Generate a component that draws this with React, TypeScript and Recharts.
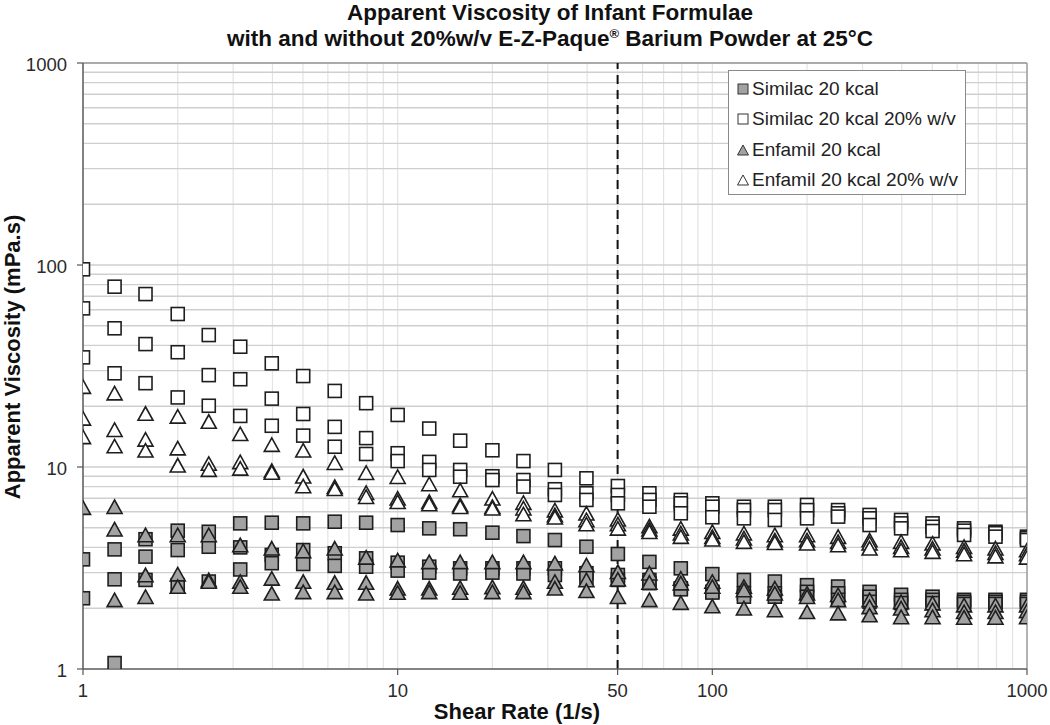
import React from 'react';
import { ScatterChart, Scatter, XAxis, YAxis, CartesianGrid, ReferenceLine } from 'recharts';

const shearRates = [1, 1.26, 1.58, 2, 2.51, 3.16, 3.98, 5.01, 6.31, 7.94, 10, 12.6, 15.8, 20, 25.1, 31.6, 39.8, 50.1, 63.1, 79.4, 100, 126, 158, 200, 251, 316, 398, 501, 631, 794, 1000];

// Similac 20 kcal (three replicate runs)
const similacRun1 = [3.49, 3.91, 4.39, 4.84, 4.78, 5.26, 5.3, 5.26, 5.36, 5.3, 5.16, 4.97, 4.92, 4.73, 4.55, 4.35, 4.03, 3.71, 3.39, 3.15, 2.95, 2.76, 2.71, 2.6, 2.56, 2.41, 2.33, 2.28, 2.2, 2.2, 2.2];
const similacRun2 = [2.24, 2.78, 3.6, 3.88, 4.03, 4.0, 3.67, 3.88, 3.74, 3.53, 3.36, 3.21, 3.15, 3.15, 3.15, 3.15, 2.98, 2.92, 2.76, 2.51, 2.41, 2.37, 2.37, 2.41, 2.37, 2.28, 2.2, 2.2, 2.15, 2.15, 2.15];
const similacRun3 = [null, 1.07, 2.76, 2.6, 2.71, 3.11, 3.34, 3.31, 3.24, 3.21, 3.07, 3.0, 2.97, 3.0, 2.97, 2.92, 2.84, 2.76, 2.66, 2.48, 2.39, 2.28, 2.28, 2.28, 2.2, 2.15, 2.12, 2.12, 2.1, 2.1, 2.1];

// Similac 20 kcal 20% w/v
const similacBaRun1 = [95.2, 78.1, 71.8, 57.2, 45.0, 39.4, 32.6, 28.2, 23.8, 20.7, 18.1, 15.5, 13.5, 12.1, 10.7, 9.67, 8.79, 8.05, 7.41, 6.87, 6.61, 6.36, 6.36, 6.49, 6.12, 5.79, 5.47, 5.26, 4.97, 4.78, 4.52];
const similacBaRun2 = [61.0, 48.6, 40.6, 37.0, 28.5, 27.2, 21.8, 18.3, 15.8, 13.9, 11.7, 10.6, 9.67, 9.0, 8.62, 7.76, 7.41, 7.27, 6.87, 6.61, 6.36, 6.12, 6.12, 6.12, 5.9, 5.57, 5.26, 5.06, 4.84, 4.7, 4.44];
const similacBaRun3 = [34.9, 29.1, 26.0, 22.1, 20.1, 17.9, 16.0, 14.3, 12.6, 11.6, 10.7, 9.67, 8.95, 8.62, 8.0, 7.27, 6.87, 6.61, 6.36, 5.9, 5.64, 5.57, 5.47, 5.57, 5.68, 5.16, 4.97, 4.82, 4.61, 4.52, 4.35];

// Enfamil 20 kcal
const enfamilRun1 = [6.29, 6.36, 4.61, 4.61, 4.61, 4.11, 3.96, 3.84, 3.96, 3.57, 3.46, 3.39, 3.39, 3.39, 3.39, 3.34, 3.27, 3.03, 2.98, 2.81, 2.71, 2.56, 2.51, 2.37, 2.33, 2.2, 2.15, 2.12, 2.07, 2.07, 2.07];
const enfamilRun2 = [null, 4.92, 2.92, 2.95, 2.76, 2.71, 2.81, 2.71, 2.68, 2.68, 2.51, 2.51, 2.53, 2.55, 2.53, 2.71, 2.76, 2.78, 2.68, 2.66, 2.56, 2.46, 2.37, 2.28, 2.2, 2.03, 2.0, 1.96, 1.92, 1.92, 1.94];
const enfamilRun3 = [null, 2.2, 2.28, 2.56, 2.71, 2.56, 2.37, 2.41, 2.41, 2.37, 2.39, 2.41, 2.39, 2.41, 2.41, 2.51, 2.44, 2.28, 2.2, 2.13, 2.05, 2.0, 1.96, 1.92, 1.89, 1.85, 1.81, 1.81, 1.8, 1.8, 1.81];

// Enfamil 20 kcal 20% w/v
const enfamilBaRun1 = [25.0, 23.2, 18.4, 17.8, 16.8, 14.6, 12.9, 12.1, 10.5, 9.37, 8.95, 8.24, 7.69, 7.0, 6.66, 6.12, 5.9, 5.51, 5.1, 4.97, 4.78, 4.7, 4.61, 4.61, 4.52, 4.35, 4.27, 4.19, 4.03, 3.96, 3.88];
const enfamilBaRun2 = [17.4, 15.3, 13.7, 12.4, 10.4, 10.6, 9.6, 9.0, 8.0, 7.46, 7.0, 6.73, 6.49, 6.36, 6.25, 5.79, 5.47, 5.22, 4.92, 4.7, 4.52, 4.44, 4.35, 4.35, 4.27, 4.19, 4.03, 3.96, 3.86, 3.77, 3.71];
const enfamilBaRun3 = [14.1, 12.7, 12.1, 10.2, 9.7, 9.85, 9.4, 8.05, 7.8, 7.13, 6.73, 6.56, 6.36, 6.25, 5.85, 5.64, 5.22, 4.97, 4.78, 4.52, 4.39, 4.27, 4.22, 4.19, 4.11, 3.96, 3.88, 3.81, 3.71, 3.62, 3.57];

const seriesNames = ['Similac 20 kcal', 'Similac 20 kcal 20% w/v', 'Enfamil 20 kcal', 'Enfamil 20 kcal 20% w/v'];

const xGridTicks = [1, 2, 3, 4, 5, 6, 7, 8, 9, 10, 20, 30, 40, 50, 60, 70, 80, 90, 100, 200, 300, 400, 500, 600, 700, 800, 900, 1000];
const xLabelTicks = [1, 10, 50, 100, 1000];
const yGridTicks = [1, 2, 3, 4, 5, 6, 7, 8, 9, 10, 20, 30, 40, 50, 60, 70, 80, 90, 100, 200, 300, 400, 500, 600, 700, 800, 900, 1000];
const yLabelTicks = [1, 10, 100, 1000];
const cutoffShearRate = 50;

const FONT = '"Liberation Sans", Arial, sans-serif';
const GRAY_FILL = '#a2a2a2';
const EDGE = '#1e1e1e';

type Pt = { x: number; y: number };
const build = (runs: (number | null)[][]): Pt[] => {
  const out: Pt[] = [];
  runs.forEach((run) => run.forEach((v, i) => { if (v != null) out.push({ x: shearRates[i], y: v }); }));
  return out;
};

const similacData = build([similacRun1, similacRun2, similacRun3]);
const similacBaData = build([similacBaRun1, similacBaRun2, similacBaRun3]);
const enfamilData = build([enfamilRun1, enfamilRun2, enfamilRun3]);
const enfamilBaData = build([enfamilBaRun1, enfamilBaRun2, enfamilBaRun3]);

const squareShape = (fill: string) => (p: any) => {
  const s = 13;
  return <rect x={p.cx - s / 2} y={p.cy - s / 2} width={s} height={s} fill={fill} stroke={EDGE} strokeWidth={1.6} />;
};
const triShape = (fill: string) => (p: any) => {
  const w = 15, h = 13.5;
  const pts = `${p.cx},${p.cy - h / 2} ${p.cx + w / 2},${p.cy + h / 2} ${p.cx - w / 2},${p.cy + h / 2}`;
  return <polygon points={pts} fill={fill} stroke={EDGE} strokeWidth={1.6} strokeLinejoin="miter" />;
};

const XTick = (props: any) => {
  const { x, y, payload } = props;
  const v = payload.value;
  if (!xLabelTicks.includes(v)) return <g />;
  return (
    <g>
      <line x1={x} x2={x} y1={y - 6} y2={y} stroke="#555" strokeWidth={1.2} />
      <text x={x} y={y + 15} textAnchor="middle" dominantBaseline="central" fontFamily={FONT} fontSize={18.5} fill="#2a2a2a">{v}</text>
    </g>
  );
};
const YTick = (props: any) => {
  const { x, y, payload } = props;
  const v = payload.value;
  if (!yLabelTicks.includes(v)) return <g />;
  return (
    <g>
      <line x1={x} x2={x + 6} y1={y} y2={y} stroke="#555" strokeWidth={1.2} />
      <text x={x - 10} y={y + 1} textAnchor="end" dominantBaseline="central" fontFamily={FONT} fontSize={18.5} fill="#2a2a2a">{v}</text>
    </g>
  );
};

const LegendMark = ({ kind, fill }: { kind: string; fill: string }) => (
  <svg width={12} height={12} style={{ display: 'block' }}>
    {kind === 'square'
      ? <rect x={1} y={1} width={10} height={10} fill={fill} stroke="#333" strokeWidth={1} />
      : <polygon points="6,1 11.5,11 0.5,11" fill={fill} stroke="#333" strokeWidth={1} />}
  </svg>
);

const legendItems = [
  { kind: 'square', fill: GRAY_FILL },
  { kind: 'square', fill: '#ffffff' },
  { kind: 'triangle', fill: GRAY_FILL },
  { kind: 'triangle', fill: '#ffffff' },
];

const LegendBox = () => (
  <div style={{ position: 'absolute', left: 728, top: 70, width: 238, height: 125, border: '1.5px solid #8a8a8a', background: '#fff', boxSizing: 'border-box', paddingTop: 3, fontFamily: FONT }}>
    {seriesNames.map((name, i) => (
      <div key={name} style={{ display: 'flex', alignItems: 'center', height: 30.3, paddingLeft: 8 }}>
        <LegendMark kind={legendItems[i].kind} fill={legendItems[i].fill} />
        <span style={{ fontSize: 19, color: '#222', marginLeft: 3, whiteSpace: 'nowrap' }}>{name}</span>
      </div>
    ))}
  </div>
);

export default function App() {
  return (
    <div style={{ position: 'absolute', left: 0, top: 0, width: 1050, height: 725, background: '#fff' }}>
      <div style={{ position: 'absolute', left: 0, top: 0, width: 1100, textAlign: 'center', fontFamily: FONT, fontWeight: 'bold', fontSize: 22.5, lineHeight: '26px', color: '#111' }}>
        <div>Apparent Viscosity of Infant Formulae</div>
        <div>with and without 20%w/v E-Z-Paque<sup style={{ fontSize: 13, lineHeight: 0 }}>®</sup> Barium Powder at 25°C</div>
      </div>
      <div style={{ position: 'absolute', left: 13, top: 357, transform: 'translate(-50%, -50%) rotate(-90deg)', whiteSpace: 'nowrap', fontFamily: FONT, fontWeight: 'bold', fontSize: 22, color: '#111' }}>
        Apparent Viscosity (mPa.s)
      </div>
      <div style={{ position: 'absolute', left: 517, top: 712, transform: 'translate(-50%, -50%)', whiteSpace: 'nowrap', fontFamily: FONT, fontWeight: 'bold', fontSize: 22, color: '#111' }}>
        Shear Rate (1/s)
      </div>
      <div style={{ position: 'absolute', left: 0, top: 0 }}>
        <ScatterChart width={1050} height={725} margin={{ top: 63, right: 23, bottom: 16, left: 23 }}>
          <CartesianGrid horizontal={false} stroke="#e3e3e3" strokeWidth={1.2} />
          <CartesianGrid vertical={false} stroke="#cfcfcf" strokeWidth={1.4} />
          <XAxis
            type="number"
            dataKey="x"
            scale="log"
            domain={[1, 1000]}
            ticks={xGridTicks}
            interval={0}
            allowDataOverflow
            height={40}
            tickSize={6}
            tickMargin={0}
            tickLine={false}
            tick={<XTick />}
            axisLine={{ stroke: '#666', strokeWidth: 1.6 }}
          />
          <YAxis
            type="number"
            dataKey="y"
            scale="log"
            domain={[1, 1000]}
            ticks={yGridTicks}
            interval={0}
            allowDataOverflow
            width={60}
            tickSize={6}
            tickMargin={0}
            tickLine={false}
            tick={<YTick />}
            axisLine={{ stroke: '#666', strokeWidth: 1.6 }}
          />
          <ReferenceLine y={1000} stroke="#9a9a9a" strokeWidth={1.4} />
          <ReferenceLine x={1000} stroke="#9a9a9a" strokeWidth={1.4} />
          <Scatter name={seriesNames[0]} data={similacData} shape={squareShape(GRAY_FILL)} isAnimationActive={false} />
          <Scatter name={seriesNames[1]} data={similacBaData} shape={squareShape('#ffffff')} isAnimationActive={false} />
          <Scatter name={seriesNames[2]} data={enfamilData} shape={triShape(GRAY_FILL)} isAnimationActive={false} />
          <Scatter name={seriesNames[3]} data={enfamilBaData} shape={triShape('#ffffff')} isAnimationActive={false} />
          <ReferenceLine x={cutoffShearRate} stroke="#111" strokeWidth={2} strokeDasharray="9 6" />
        </ScatterChart>
      </div>
      <LegendBox />
    </div>
  );
}
